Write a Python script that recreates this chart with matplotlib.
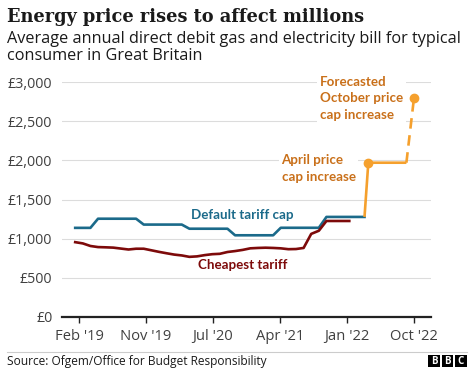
import matplotlib
matplotlib.use("Agg")
import matplotlib.pyplot as plt
from matplotlib.patches import Rectangle
import numpy as np

# monthly figures, Jan '19 onwards (month index: Feb '19 = 0)
cap_start = -1          # Jan '19
default_cap = [1137, 1137, 1137,
               1254, 1254, 1254, 1254, 1254, 1254,
               1179, 1179, 1179, 1179, 1179, 1179,
               1126, 1126, 1126, 1126, 1126, 1126,
               1042, 1042, 1042, 1042, 1042, 1042,
               1138, 1138, 1138, 1138, 1138, 1138,
               1277, 1277, 1277, 1277, 1277, 1277]   # to Mar '22

cheap_start = -1        # Jan '19
cheapest = [954, 938, 905, 891, 888, 884, 872, 860, 870, 870, 850, 830,
            812, 795, 784, 766, 772, 788, 800, 805, 828, 840, 855, 875,
            880, 883, 880, 875, 864, 866, 880, 1060, 1100, 1225, 1225, 1225,
            1225]                                     # to Jan '22

# price cap rise: Apr '22, Sep '22, Oct '22 (forecast)
cap_rise_months = [38, 43, 44]
cap_rise = [1971, 1971, 2800]

xtick_labels = ["Feb '19", "Nov '19", "Jul '20", "Apr '21", "Jan '22", "Oct '22"]
yticks = [0, 500, 1000, 1500, 2000, 2500, 3000]

BLUE = "#1b6a8a"
RED = "#7d0a0a"
ORANGE = "#f5a02d"
ORANGE_TXT = "#c9701a"
GREY = "#404040"

W, H = 474, 370
fig = plt.figure(figsize=(W / 100, H / 100), dpi=100)

def px(x, y):
    return x / W, 1 - y / H

ax = fig.add_axes([62 / W, 1 - 316.7 / H, (431 - 62) / W, (316.7 - 82.3) / H])
ppm = (414 - 79) / 44.0
ax.set_xlim(-(79 - 62) / ppm, 44 + (431 - 414) / ppm)
ax.set_ylim(0, 3000)

for s in ["top", "right", "left"]:
    ax.spines[s].set_visible(False)
ax.spines["bottom"].set_color("#222222")
ax.spines["bottom"].set_linewidth(1.6)
ax.spines["bottom"].set_zorder(5)

ax.set_yticks(yticks)
ax.set_yticklabels(["\u00a3{:,}".format(v) for v in yticks])
ax.tick_params(axis="y", length=0, pad=7, labelsize=10.3, labelcolor=GREY)
ax.set_xticks(np.linspace(0, 44, len(xtick_labels)))
ax.set_xticklabels(xtick_labels)
ax.tick_params(axis="x", length=4, width=1, color="#222222", pad=5,
               labelsize=10.6, labelcolor=GREY)
for v in yticks[1:]:
    ax.axhline(v, color="#dcdcdc", lw=0.8, zorder=0)

# data sits mid-month for the monthly series
cap_x = np.arange(len(default_cap)) + cap_start + 0.5
cheap_x = np.arange(len(cheapest)) + cheap_start + 0.5

ax.plot(cap_x, default_cap, color=BLUE, lw=1.9, zorder=3)
ax.plot(cheap_x, cheapest, color=RED, lw=1.9, zorder=3)

rx = [cap_x[-1]] + cap_rise_months[:2]
ry = [default_cap[-1]] + cap_rise[:2]
ax.plot(rx, ry, color=ORANGE, lw=1.9, zorder=4, solid_capstyle="butt")
ax.plot(cap_rise_months[1:], cap_rise[1:], color=ORANGE, lw=1.9, ls=(0, (4, 2.5)),
        zorder=4)
ax.plot([cap_rise_months[0], cap_rise_months[2]], [cap_rise[0], cap_rise[2]], "o",
        color=ORANGE, ms=6, zorder=5, clip_on=False)

bold = dict(fontfamily="Lato", fontweight="bold", fontsize=9.6)
ax.text(21.5, 1302, "Default tariff cap", color=BLUE, ha="center", va="center", **bold)
ax.text(21.5, 662, "Cheapest tariff", color=RED, ha="center", va="center", **bold)
box = dict(facecolor="white", edgecolor="none", pad=2)
ax.text(26.6, 1899, "April price\ncap increase", color=ORANGE_TXT, ha="left",
        va="center", linespacing=1.45, bbox=box, **bold)
ax.text(31.6, 2798, "Forecasted\nOctober price\ncap increase", color=ORANGE_TXT,
        ha="left", va="center", linespacing=1.45, bbox=box, **bold)

for t in ax.get_xticklabels() + ax.get_yticklabels():
    t.set_fontfamily("Open Sans")

fig.text(*px(7, 22), "Energy price rises to affect millions", fontfamily="DejaVu Serif",
         fontweight="bold", fontsize=12.8, color="#1a1a1a", va="baseline")
fig.text(*px(7, 31), "Average annual direct debit gas and electricity bill for typical\n"
         "consumer in Great Britain", fontfamily="Open Sans", fontsize=11.7,
         color="#1a1a1a", va="top", linespacing=1.12)

fig.add_artist(plt.Line2D([7 / W, 467 / W], [1 - 351.7 / H] * 2, color="#cccccc", lw=0.8))
fig.text(*px(7, 365), "Source: Ofgem/Office for Budget Responsibility",
         fontfamily="Open Sans", fontsize=8.6, color="#1a1a1a", va="baseline")
for i, ch in enumerate("BBC"):
    x0 = 428.3 + i * 13.4
    fig.add_artist(Rectangle((x0 / W, 1 - 367.3 / H), 11.5 / W, 12.3 / H,
                             transform=fig.transFigure, color="black", lw=0))
    fig.text((x0 + 5.75) / W, 1 - 361.2 / H, ch, color="white", fontfamily="Open Sans",
             fontweight="bold", fontsize=7, ha="center", va="center")

fig.savefig("out.png", dpi=100)
